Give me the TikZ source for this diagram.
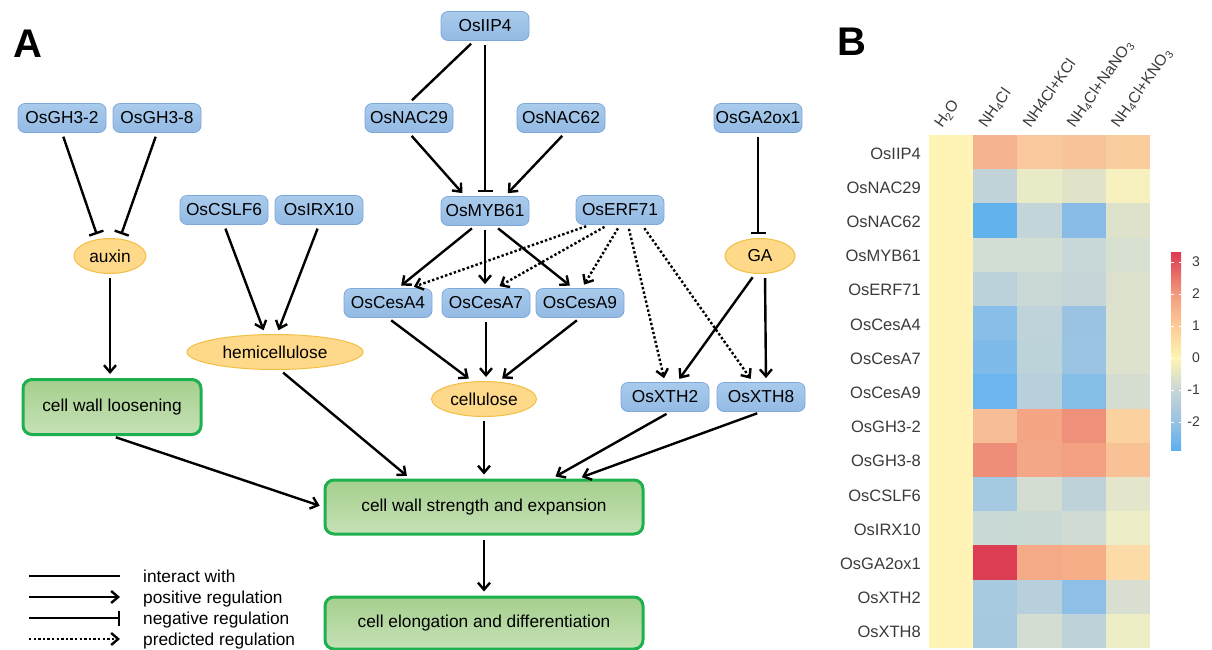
\documentclass[tikz,border=0pt]{standalone}
\usepackage{fontspec}
\setmainfont{Liberation Sans}
\usetikzlibrary{arrows.meta,shapes.geometric}
\definecolor{genetop}{HTML}{A9CBEC}
\definecolor{genebot}{HTML}{93BAE4}
\definecolor{geneedge}{HTML}{7FA8DA}
\definecolor{metabfill}{HTML}{FFD98A}
\definecolor{metabedge}{HTML}{F2BE45}
\definecolor{proctop}{HTML}{A5CF8D}
\definecolor{procbot}{HTML}{C6E1B6}
\definecolor{procedge}{HTML}{1DB04E}
\definecolor{hzero}{HTML}{FFF3B5}
\definecolor{heattext}{HTML}{3A3A3A}
\newcommand\nodefont{\fontsize{17.3}{20}\selectfont}
\newcommand\heatfont{\fontsize{16.5}{19}\selectfont}
\tikzset{
  interact/.style={line width=2.4pt,shorten <=4pt,shorten >=4pt},
  activate/.style={interact,-{Straight Barb[length=7pt,width=12pt]}},
  inhibit/.style={interact,-{Bar[width=15pt]}},
  predicted/.style={activate,dash pattern=on 2.4pt off 2.2pt},
  gene/.style={draw=geneedge,line width=0.8pt,top color=genetop,bottom color=genebot,
               rounded corners=7pt,minimum width=88pt,minimum height=29pt,inner sep=1pt,font=\nodefont},
  metabolite/.style={ellipse,draw=metabedge,line width=1pt,fill=metabfill,
               minimum height=35pt,inner sep=0pt,font=\nodefont},
  phenotype/.style={draw=procedge,line width=3pt,top color=proctop,bottom color=procbot,
               rounded corners=9pt,minimum width=318pt,minimum height=54pt,font=\nodefont},
  panel/.style={font=\fontsize{40}{44}\selectfont\bfseries},
  keylab/.style={anchor=base west,font=\nodefont,inner sep=0pt},
  rowlab/.style={anchor=base east,font=\heatfont,text=heattext,inner sep=0pt},
  collab/.style={anchor=base west,rotate=55,font=\fontsize{15.5}{18}\selectfont,text=heattext,inner sep=0pt},
  barlab/.style={anchor=east,font=\fontsize{14}{16}\selectfont,text=heattext,inner sep=0pt},
}
\begin{document}
\begin{tikzpicture}[x=1pt,y=-1pt]
  \useasboundingbox (0,0) rectangle (1212,649);
  % panel A
  \node[panel] (pa) at (28,44) {A};
  \node[gene] (gha) at (62,118) {OsGH3-2};
  \node[gene] (ghb) at (157,118) {OsGH3-8};
  \node[gene] (cslf) at (224,210) {OsCSLF6};
  \node[gene] (irx) at (319,210) {OsIRX10};
  \node[gene] (iip) at (485,26) {OsIIP4};
  \node[gene] (nac29) at (409,118) {OsNAC29};
  \node[gene] (nac62) at (561,118) {OsNAC62};
  \node[gene] (ga2ox) at (758,118) {OsGA2ox1};
  \node[gene] (myb) at (485,211) {OsMYB61};
  \node[gene] (erf) at (620,210) {OsERF71};
  \node[gene] (cesa4) at (388,303) {OsCesA4};
  \node[gene] (cesa7) at (486,303) {OsCesA7};
  \node[gene] (cesa9) at (580,303) {OsCesA9};
  \node[gene] (xth2) at (665,397) {OsXTH2};
  \node[gene] (xth8) at (761,397) {OsXTH8};
  \node[metabolite,minimum width=72pt] (auxin) at (110,256) {auxin};
  \node[metabolite,minimum width=70pt] (ga) at (760,256) {GA};
  \node[metabolite,minimum width=176pt] (hemi) at (275,352) {hemicellulose};
  \node[metabolite,minimum width=105pt] (cellu) at (484,399) {cellulose};
  \node[phenotype,minimum width=178pt,minimum height=55pt] (loosen) at (112,407) {cell wall loosening};
  \node[phenotype] (strength) at (484,507) {cell wall strength and expansion};
  \node[phenotype,minimum height=52pt] (elong) at (484,623) {cell elongation and differentiation};

  \draw[inhibit] (gha.south) -- ([xshift=-12pt]auxin.north);
  \draw[inhibit] (ghb.south) -- ([xshift=10pt]auxin.north);
  \draw[activate] (auxin.south) -- (auxin.south |- loosen.north);
  \draw[activate] (cslf.south) -- ([xshift=-10pt]hemi.north);
  \draw[activate] (irx.south) -- ([xshift=2pt]hemi.north);
  \draw[activate] ([xshift=5pt]hemi.south) -- ([xshift=-74pt]strength.north);
  \draw[activate] (loosen.south) -- (strength.west);
  \draw[interact] ([xshift=-11pt]iip.south) -- (nac29.north);
  \draw[inhibit] (iip.south) -- (myb.north);
  \draw[activate] (nac29.south) -- ([xshift=-20pt]myb.north);
  \draw[activate] ([xshift=4pt]nac62.south) -- ([xshift=20pt]myb.north);
  \draw[inhibit] (ga2ox.south) -- (ga2ox.south |- ga.north);
  \draw[activate] ([xshift=-10pt]myb.south) -- ([xshift=10pt]cesa4.north);
  \draw[activate] (myb.south) -- (myb.south |- cesa7.north);
  \draw[activate] ([xshift=10pt]myb.south) -- ([xshift=-7pt]cesa9.north);
  \draw[predicted] ([xshift=-30pt]erf.south) -- ([xshift=22pt]cesa4.north);
  \draw[predicted] ([xshift=-12pt]erf.south) -- ([xshift=10pt]cesa7.north);
  \draw[predicted] (erf.south) -- ([xshift=2pt]cesa9.north);
  \draw[predicted] ([xshift=8pt]erf.south) -- (xth2.north);
  \draw[predicted] ([xshift=22pt]erf.south) -- ([xshift=-8pt]xth8.north);
  \draw[activate] ([xshift=-5pt]ga.south) -- ([xshift=12pt]xth2.north);
  \draw[activate] ([xshift=5pt]ga.south) -- ([xshift=5pt]xth8.north);
  \draw[activate] (cesa4.south) -- ([xshift=-12pt]cellu.north);
  \draw[activate] (cesa7.south) -- (cesa7.south |- cellu.north);
  \draw[activate] (cesa9.south) -- ([xshift=15pt]cellu.north);
  \draw[activate] (cellu.south) -- (cellu.south |- strength.north);
  \draw[activate] ([xshift=5pt]xth2.south) -- ([xshift=68pt]strength.north);
  \draw[activate] (xth8.south) -- ([xshift=94pt]strength.north);
  \draw[activate] (strength.south) -- (elong.north);

  % legend
  \foreach \st/\tx [count=\k] in {interact/interact with,activate/positive regulation,
      inhibit/negative regulation,predicted/predicted regulation}{
    \coordinate (k\k a) at (29,{555+21*\k});
    \coordinate (k\k b) at (120,{555+21*\k});
    \draw[\st,shorten <=0pt,shorten >=0pt] (k\k a) -- (k\k b);
    \node[keylab] (k\k) at (143,{561+21*\k}) {\tx};
  }

  % panel B
  \node[panel] (pb) at (852,42) {B};
  \fill[hzero] (929,135) rectangle (973.4,648.2);
  \foreach \g/\ca/\cb/\cc/\cd [count=\i from 0] in {
      OsIIP4/F5B48F/F9C89C/F8C399/FACD9F,
      OsNAC29/C1D3D8/E9EBC7/E0E3C8/F7F1BF,
      OsNAC62/62B2EE/C3D5D8/88BBE5/DFE2CB,
      OsMYB61/D2DDD4/D2DDD4/C8D7D8/D8E0D2,
      OsERF71/BCD2DA/CBD9D6/C6D6D8/DCE1CE,
      OsCesA4/88BEE8/BFD3DA/9AC3E3/DDE2CE,
      OsCesA7/7EBAEA/BCD3DA/9BC3E3/DDE2CE,
      OsCesA9/6DB5EE/B8D0DB/86BDE7/D5DDD1,
      OsGH3-2/F7BD96/F3A584/EF917A/FAD19F,
      OsGH3-8/EF8E78/F4A786/F2A081/F8C196,
      OsCSLF6/A5C9E0/D3DDD2/BDD2D9/E4E6CB,
      OsIRX10/C9D9D6/CBD9D5/D0DBD3/EDEDC7,
      OsGA2ox1/DC3D52/F4AA87/F6AE89/FCDBA8,
      OsXTH2/A8CAE0/B8CFDC/8EBFE6/D8DFD0,
      OsXTH8/A6C9E0/D3DDD2/BDD2D9/EDEDC6}{
    \node[rowlab] (row\i) at (921,{159+34.2*\i}) {\g};
    \foreach \c [count=\j from 1] in {\ca,\cb,\cc,\cd}{
      \definecolor{cellc}{HTML}{\c}
      \fill[cellc] ({929+44.2*\j},{135+34.2*\i}) rectangle ++(44.4,34.4);
    }
  }
  \foreach \t [count=\j from 0] in {H\textsubscript{2}O,NH\textsubscript{4}Cl,NH4Cl+KCl,
      NH\textsubscript{4}Cl+NaNO\textsubscript{3},NH\textsubscript{4}Cl+KNO\textsubscript{3}}{
    \node[collab] (col\j) at ({942+44.2*\j},129) {\t};
  }

  % colour bar
  \foreach \ya/\yb/\cl/\ch in {-2.9/-2/5AAFEF/98C2E2,-2/-1/98C2E2/C8D6D5,-1/0/C8D6D5/FFF4B4,
      0/1/FFF4B4/FBCB97,1/2/FBCB97/F29B7E,2/3.3/F29B7E/DC3A52}{
    \definecolor{barlo}{HTML}{\cl}
    \definecolor{barhi}{HTML}{\ch}
    \shade[bottom color=barlo,top color=barhi] (1171,{358-32*\ya}) rectangle (1181,{358-32*\yb-0.3});
  }
  \foreach \v in {-2,...,3}{
    \draw[white,line width=0.8pt] (1171,{358-32*\v}) -- (1173.5,{358-32*\v});
    \draw[white,line width=0.8pt] (1178.5,{358-32*\v}) -- (1181,{358-32*\v});
    \node[barlab] (tick\v) at (1200,{358-32*\v}) {\v};
  }
\end{tikzpicture}
\end{document}
